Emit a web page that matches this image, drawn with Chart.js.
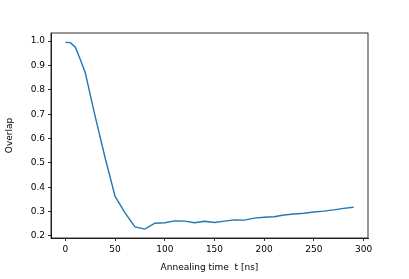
<!DOCTYPE html>
<html>
<head>
<meta charset="utf-8">
<script src="https://cdn.jsdelivr.net/npm/chart.js@4"></script>
<style>
  body { margin: 0; background: #fff; }
  canvas { display: block; }
</style>
</head>
<body>
<canvas id="chart" width="409" height="279"></canvas>
<script>
// ----------------------------------------
// Data
// ----------------------------------------
var annealTimes = [0, 5, 10, 15, 20, 30, 40, 50, 60, 70, 80, 90, 100, 110, 120, 130, 140,
    150, 160, 170, 180, 190, 200, 210, 220, 230, 240, 250, 260, 270, 280, 290];
var overlap = [0.995, 0.994, 0.975, 0.925, 0.87, 0.69, 0.52, 0.362, 0.295, 0.237, 0.228,
    0.252, 0.254, 0.262, 0.261, 0.254, 0.26, 0.255, 0.261, 0.266, 0.265, 0.273, 0.277,
    0.279, 0.286, 0.29, 0.293, 0.298, 0.302, 0.307, 0.313, 0.318];
var xTicks = [0, 50, 100, 150, 200, 250, 300];
var yTicks = [0.2, 0.3, 0.4, 0.5, 0.6, 0.7, 0.8, 0.9, 1.0];

var points = annealTimes.map(function (t, i) {
    return { x: t, y: overlap[i] };
});

var tickFont = { family: 'DejaVu Sans', size: 9 };

// draw the top and right spines like matplotlib
var frame = {
    id: 'frame',
    afterDraw: function (chart) {
        var a = chart.chartArea;
        var ctx = chart.ctx;
        ctx.save();
        ctx.strokeStyle = '#000';
        ctx.lineWidth = 0.8;
        ctx.strokeRect(a.left, a.top, a.right - a.left, a.bottom - a.top);
        ctx.restore();
    }
};

var ctx = document.getElementById('chart').getContext('2d');
var chart = new Chart(ctx, {
    type: 'scatter',
    data: {
        datasets: [{
            data: points,
            showLine: true,
            borderColor: '#1f77b4',
            borderWidth: 1.4,
            pointRadius: 0,
            fill: false,
            tension: 0
        }]
    },
    options: {
        responsive: false,
        animation: false,
        layout: { padding: { top: 33, right: 41, left: 0, bottom: 0 } },
        plugins: { legend: { display: false }, tooltip: { enabled: false } },
        scales: {
            x: {
                type: 'linear',
                min: -14.5,
                max: 304.5,
                afterBuildTicks: function (axis) {
                    axis.ticks = xTicks.map(function (v) { return { value: v }; });
                },
                afterFit: function (axis) { axis.height = 41; },
                grid: { drawOnChartArea: false, drawTicks: true, tickLength: 3, color: '#000', tickWidth: 0.8 },
                border: { display: true, color: '#000', width: 0.8 },
                ticks: { color: '#000', font: tickFont, padding: 3, maxRotation: 0,
                    callback: function (v) { return String(v); } },
                title: { display: true, text: 'Annealing time  t [ns]', color: '#000',
                    font: tickFont, padding: { top: 0, bottom: 6 } }
            },
            y: {
                type: 'linear',
                min: 0.1915,
                max: 1.0335,
                afterBuildTicks: function (axis) {
                    axis.ticks = yTicks.map(function (v) { return { value: v }; });
                },
                afterFit: function (axis) { axis.width = 51; },
                grid: { drawOnChartArea: false, drawTicks: true, tickLength: 3, color: '#000', tickWidth: 0.8 },
                border: { display: true, color: '#000', width: 0.8 },
                ticks: { color: '#000', font: tickFont, padding: 3,
                    callback: function (v) { return v.toFixed(1); } },
                title: { display: true, text: 'Overlap', color: '#000',
                    font: tickFont, padding: { top: 4, bottom: 0 } }
            }
        }
    },
    plugins: [frame]
});
</script>
</body>
</html>
